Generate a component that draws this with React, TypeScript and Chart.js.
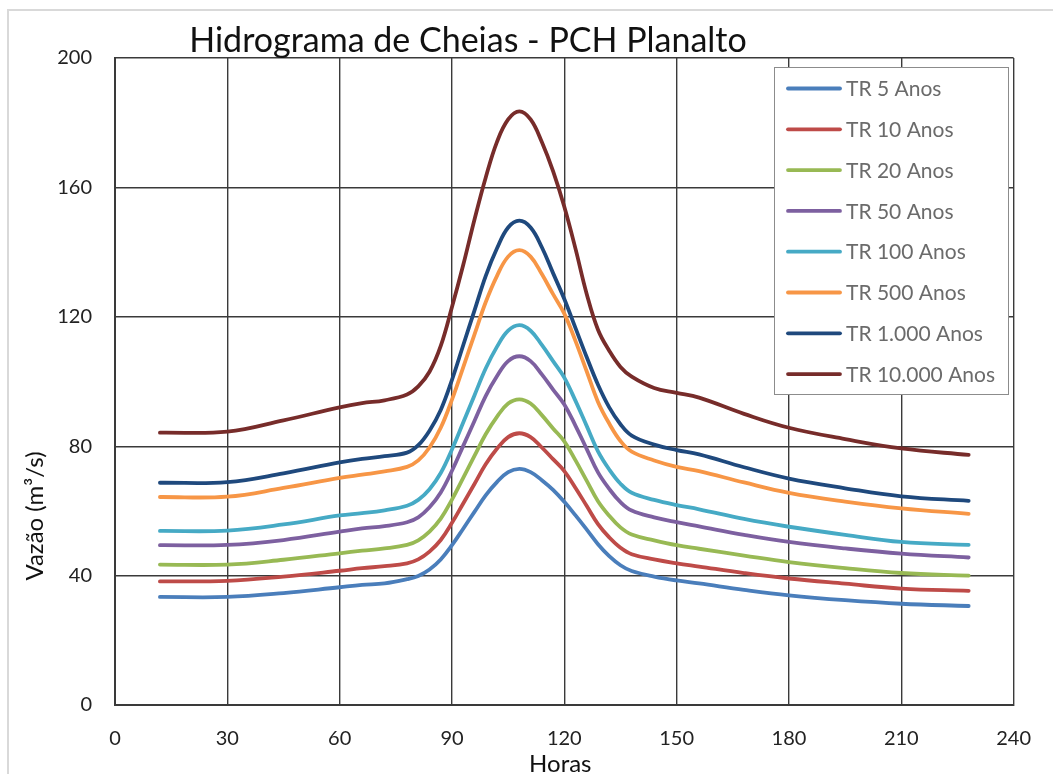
import { useEffect, useRef } from "react";
import { Chart, registerables } from "chart.js";

Chart.register(...registerables);

const hours = [12, 30, 45, 60, 66, 72, 78, 81, 84, 87, 90, 93, 96, 99, 102, 105, 108, 111, 114, 117, 120, 123, 126, 129, 132, 135, 138, 144, 150, 156, 168, 180, 195, 210, 228];

const seriesNames = ["TR 5 Anos", "TR 10 Anos", "TR 20 Anos", "TR 50 Anos", "TR 100 Anos", "TR 500 Anos", "TR 1.000 Anos", "TR 10.000 Anos"];

const tr5 = [33.4, 33.4, 34.6, 36.4, 37.1, 37.6, 38.9, 39.9, 41.9, 45.0, 49.4, 54.5, 59.7, 64.8, 68.9, 72.0, 73, 72.0, 69.5, 66.5, 62.8, 58.6, 54.2, 49.7, 46.0, 43.2, 41.4, 39.7, 38.5, 37.6, 35.6, 33.9, 32.4, 31.3, 30.6];
const tr10 = [38.2, 38.4, 39.7, 41.5, 42.3, 42.9, 43.8, 45.0, 47.4, 51.0, 56.3, 62.3, 68.3, 74.4, 79.2, 82.8, 84, 82.8, 79.6, 76.0, 72.3, 67.1, 61.5, 55.9, 51.8, 48.6, 46.6, 45.0, 43.8, 42.8, 40.8, 39.1, 37.5, 36.0, 35.3];
const tr20 = [43.4, 43.4, 44.9, 46.9, 47.7, 48.4, 49.5, 50.9, 53.6, 57.6, 63.5, 70.2, 77.0, 83.7, 89.1, 93.2, 94.5, 93.2, 89.6, 85.5, 81.5, 75.6, 69.3, 63.0, 58.5, 54.9, 52.7, 50.9, 49.4, 48.3, 46.2, 44.2, 42.3, 40.8, 40.0];
const tr50 = [49.4, 49.5, 51.0, 53.6, 54.6, 55.3, 56.5, 58.0, 61.1, 65.7, 72.4, 80.1, 87.8, 95.5, 101.6, 106.3, 107.8, 106.3, 102.2, 97.5, 92.9, 86.3, 79.1, 71.9, 66.8, 62.7, 60.1, 58.0, 56.5, 55.2, 52.6, 50.4, 48.4, 46.8, 45.6];
const tr100 = [53.8, 53.9, 55.8, 58.6, 59.3, 60.2, 61.6, 63.4, 66.7, 71.7, 79.0, 87.3, 95.7, 104.0, 110.7, 115.7, 117.4, 115.7, 111.3, 106.3, 101.2, 94.0, 86.2, 78.4, 72.8, 68.4, 65.6, 63.4, 61.8, 60.5, 57.5, 55.1, 52.6, 50.4, 49.5];
const tr500 = [64.3, 64.4, 67.1, 70.2, 71.2, 72.2, 73.6, 75.6, 79.6, 85.7, 94.4, 104.4, 114.5, 124.5, 132.6, 138.6, 140.6, 138.6, 133.2, 127.0, 121.0, 112.5, 103.1, 93.7, 87.0, 81.6, 78.3, 75.6, 73.6, 72.3, 68.8, 65.6, 62.9, 60.8, 59.1];
const tr1000 = [68.7, 68.9, 71.6, 75.0, 76.1, 76.9, 78.0, 80.3, 84.8, 91.2, 100.5, 111.2, 121.9, 132.6, 141.1, 147.6, 149.7, 147.6, 141.5, 133.5, 125.5, 116.5, 107.5, 99.0, 92.0, 86.8, 83.3, 80.5, 78.8, 77.5, 73.5, 70.0, 67.0, 64.5, 63.1];
const tr10000 = [84.2, 84.5, 88.0, 92.0, 93.3, 94.2, 96.0, 98.5, 103, 111, 123, 136, 150, 163, 174, 181, 183.5, 181, 174, 165, 154, 141, 127, 116, 109.5, 104.5, 101.5, 98, 96.5, 95, 90, 85.7, 82.2, 79.3, 77.3];

const seriesValues = [tr5, tr10, tr20, tr50, tr100, tr500, tr1000, tr10000];
const seriesColors = ["#4A7EBB", "#BE4B48", "#98B954", "#7D60A0", "#46AAC5", "#F79646", "#1F497D", "#772C2A"];

const xTicks = [0, 30, 60, 90, 120, 150, 180, 210, 240];
const yTicks = [0, 40, 80, 120, 160, 200];

const titleText = "Hidrograma de Cheias - PCH Planalto";
const xTitle = "Horas";
const yTitle = "Vazão (m³/s)";

const FONT = "Lato, 'Open Sans', sans-serif";

const backgroundPlugin = {
  id: "bg",
  beforeDraw(chart: any) {
    const ctx = chart.ctx;
    ctx.save();
    ctx.fillStyle = "#ffffff";
    ctx.fillRect(0, 0, chart.width, chart.height);
    ctx.strokeStyle = "#d9d9d9";
    ctx.lineWidth = 2;
    ctx.strokeRect(8, 10, chart.width + 20, chart.height + 20);
    ctx.restore();
  },
};

const overlayPlugin = {
  id: "overlay",
  afterDraw(chart: any) {
    const ctx = chart.ctx;
    const area = chart.chartArea;
    ctx.save();
    // title
    ctx.fillStyle = "#111111";
    ctx.font = `34px ${FONT}`;
    ctx.textAlign = "center";
    ctx.textBaseline = "alphabetic";
    ctx.fillText(titleText, 468, 52);
    // axis titles
    ctx.font = `24px ${FONT}`;
    ctx.textBaseline = "middle";
    ctx.fillText(xTitle, (area.left + area.right) / 2 - 4, 764);
    ctx.save();
    ctx.translate(35, 516);
    ctx.rotate(-Math.PI / 2);
    ctx.fillText(yTitle, 0, 0);
    ctx.restore();
    // legend
    const bx = 774, by = 67, bw = 234, bh = 327;
    ctx.fillStyle = "#ffffff";
    ctx.fillRect(bx, by, bw, bh);
    ctx.strokeStyle = "#8c8c8c";
    ctx.lineWidth = 1;
    ctx.strokeRect(bx + 0.5, by + 0.5, bw, bh);
    ctx.font = `21px ${FONT}`;
    ctx.textAlign = "left";
    ctx.textBaseline = "middle";
    chart.data.datasets.forEach((ds: any, i: number) => {
      const y = 88.5 + i * 40.8;
      ctx.strokeStyle = ds.borderColor;
      ctx.lineWidth = 3.8;
      ctx.lineCap = "round";
      ctx.beginPath();
      ctx.moveTo(788, y);
      ctx.lineTo(840, y);
      ctx.stroke();
      ctx.fillStyle = "#6b6b6b";
      ctx.fillText(ds.label, 846, y + 1);
    });
    ctx.restore();
  },
};

export default function App() {
  const ref = useRef<HTMLCanvasElement>(null);
  useEffect(() => {
    document.body.style.margin = "0";
    const canvas = ref.current;
    if (!canvas) return;
    const chart = new Chart(canvas, {
      type: "line",
      data: {
        datasets: seriesValues.map((vals, i) => ({
          label: seriesNames[i],
          data: hours.map((h, j) => ({ x: h, y: vals[j] })),
          borderColor: seriesColors[i],
          backgroundColor: seriesColors[i],
          borderWidth: 3.8,
          pointRadius: 0,
          fill: false,
          tension: 0.4,
          borderCapStyle: "round" as const,
          borderJoinStyle: "round" as const,
        })),
      },
      options: {
        responsive: false,
        animation: false,
        devicePixelRatio: 1,
        layout: { padding: { top: 58, right: 25, left: 0, bottom: 0 } },
        plugins: {
          legend: { display: false },
          title: { display: false },
          tooltip: { enabled: false },
        },
        scales: {
          x: {
            type: "linear",
            min: 0,
            max: 240,
            afterBuildTicks: (s: any) => {
              s.ticks = xTicks.map((v) => ({ value: v }));
            },
            afterFit: (s: any) => {
              s.height = 69;
            },
            ticks: { padding: 22, color: "#222222", font: { family: FONT, size: 20 }, maxRotation: 0, autoSkip: false },
            grid: { color: "#3a3a3a", lineWidth: 1.4, drawTicks: false },
            border: { color: "#3a3a3a", width: 2 },
          },
          y: {
            type: "linear",
            min: 0,
            max: 200,
            afterBuildTicks: (s: any) => {
              s.ticks = yTicks.map((v) => ({ value: v }));
            },
            afterFit: (s: any) => {
              s.width = 115;
            },
            ticks: { padding: 23, color: "#222222", font: { family: FONT, size: 20 }, autoSkip: false },
            grid: { color: "#3a3a3a", lineWidth: 1.4, drawTicks: false },
            border: { color: "#3a3a3a", width: 2 },
          },
        },
      },
      plugins: [backgroundPlugin, overlayPlugin],
    });
    return () => chart.destroy();
  }, []);
  return <canvas ref={ref} width={1053} height={774} style={{ display: "block" }} />;
}
